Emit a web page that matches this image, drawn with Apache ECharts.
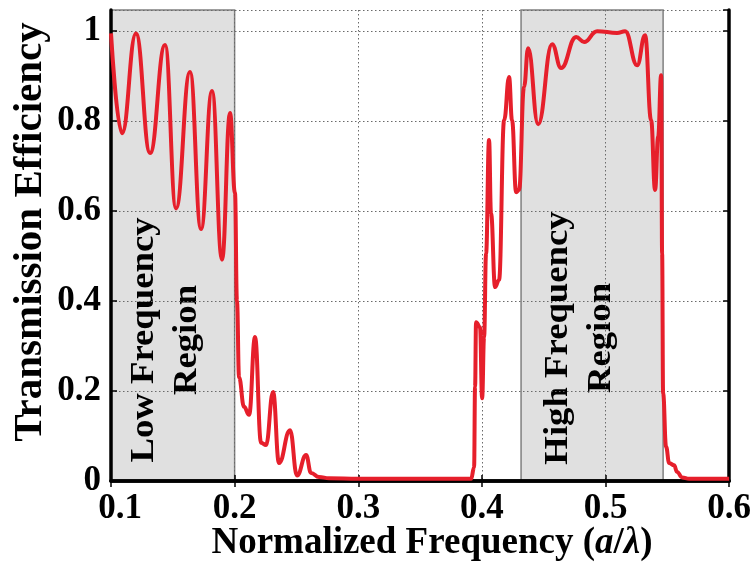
<!DOCTYPE html>
<html>
<head>
<meta charset="utf-8">
<script src="https://cdn.jsdelivr.net/npm/echarts@6/dist/echarts.min.js"></script>
<style>
  html, body { margin: 0; padding: 0; background: #ffffff; }
  #chart { width: 754px; height: 570px; }
</style>
</head>
<body>
<div id="chart"></div>
<script>
// Normalized frequency a/λ of each sample
const freq = [
  0.1000, 0.1089, 0.1202, 0.1316, 0.1437, 0.1526, 0.1639, 0.1728, 0.1817, 0.1898,
  0.1963, 0.2003, 0.2019, 0.2036, 0.2076, 0.2117, 0.2165, 0.2214, 0.2254, 0.2311,
  0.2359, 0.2448, 0.2505, 0.2578, 0.2618, 0.2683, 0.2764, 0.3000, 0.3500, 0.3913,
  0.3937, 0.3945, 0.3953, 0.3985, 0.4002, 0.4018, 0.4034, 0.4058, 0.4074, 0.4107,
  0.4139, 0.4180, 0.4220, 0.4244, 0.4277, 0.4301, 0.4341, 0.4374, 0.4455, 0.4568,
  0.4641, 0.4762, 0.4827, 0.4932, 0.5094, 0.5159, 0.5256, 0.5320, 0.5369, 0.5401,
  0.5426, 0.5450, 0.5458, 0.5466, 0.5490, 0.5515, 0.5555, 0.5579, 0.5620, 0.5676,
  0.6000
];
// Transmission efficiency at each frequency
const transmission = [
  0.995, 0.773, 0.995, 0.729, 0.969, 0.606, 0.909, 0.560, 0.867, 0.492,
  0.818, 0.640, 0.400, 0.230, 0.165, 0.147, 0.320, 0.085, 0.080, 0.198,
  0.040, 0.113, 0.012, 0.058, 0.018, 0.009, 0.006, 0.005, 0.005, 0.005,
  0.030, 0.210, 0.353, 0.342, 0.184, 0.320, 0.506, 0.758, 0.595, 0.431,
  0.447, 0.802, 0.898, 0.802, 0.642, 0.647, 0.876, 0.962, 0.793, 0.971,
  0.918, 0.987, 0.976, 1.000, 0.996, 1.000, 0.924, 0.991, 0.802, 0.647,
  0.765, 0.902, 0.506, 0.195, 0.076, 0.040, 0.035, 0.020, 0.008, 0.005,
  0.005
];
// Frequency bands that are shaded, and their captions
const bandStart = [0.1, 0.4317];
const bandEnd = [0.2, 0.5466];
const bandNames = ['Low Frequency\nRegion', 'High Frequency\nRegion'];

const X_MIN = 0.1, X_MAX = 0.6, X_STEP = 0.1;
const Y_MIN = 0, Y_MAX = 1.047, Y_STEP = 0.2;

const SERIF = '"Liberation Serif", "Times New Roman", serif';
const curveData = freq.map((f, i) => [f, transmission[i]]);
const bandData = bandStart.map((s, i) => [s, bandEnd[i]]);

const chart = echarts.init(document.getElementById('chart'), null, { renderer: 'canvas' });

const tickFont = { fontFamily: SERIF, fontWeight: 'bold', fontSize: 35, color: '#000' };

function xLabel(v) {
  const s = v.toFixed(1);
  return Math.abs(v - X_MIN) < 1e-9 ? '{first|' + s + '}' : s;
}
function yLabel(v) {
  const k = v / Y_STEP;
  if (Math.abs(k - Math.round(k)) > 1e-6) return '';
  return (v === 0 || Math.abs(v - 1) < 1e-9) ? String(Math.round(v)) : v.toFixed(1);
}

const axisLine = { show: true, lineStyle: { color: '#000', width: 3.5 } };
const innerTick = { show: true, inside: true, length: 6, lineStyle: { color: '#000', width: 1.5 } };
const gridDots = { show: true, lineStyle: { color: '#6a6a6a', width: 1, type: [1.5, 2.5] } };

chart.setOption({
  animation: false,
  backgroundColor: '#ffffff',
  grid: { left: 111, right: 24, top: 10, bottom: 89, containLabel: false },
  xAxis: [
    {
      type: 'value', position: 'bottom', min: X_MIN, max: X_MAX, interval: X_STEP,
      axisLine: axisLine, axisTick: innerTick, splitLine: gridDots,
      axisLabel: Object.assign({}, tickFont, {
        margin: 10, formatter: xLabel,
        rich: { first: Object.assign({}, tickFont, { padding: [0, 0, 0, 18] }) }
      })
    },
    {
      type: 'value', position: 'top', min: X_MIN, max: X_MAX, interval: X_STEP,
      axisLine: axisLine, axisTick: innerTick, splitLine: { show: false },
      axisLabel: { show: false }
    }
  ],
  yAxis: [
    {
      type: 'value', position: 'left', min: Y_MIN, max: Y_MAX, interval: Y_STEP,
      axisLine: axisLine, axisTick: innerTick, splitLine: gridDots,
      axisLabel: Object.assign({}, tickFont, { margin: 10, formatter: yLabel, showMaxLabel: false })
    },
    {
      type: 'value', position: 'right', min: Y_MIN, max: Y_MAX, interval: Y_STEP,
      axisLine: axisLine, axisTick: innerTick, splitLine: { show: false },
      axisLabel: { show: false }
    }
  ],
  series: [
    {
      // shaded frequency bands, drawn underneath the dotted grid
      type: 'custom',
      z: -1,
      silent: true,
      data: bandData,
      encode: { x: [0, 1] },
      renderItem: function (params, api) {
        const topLeft = api.coord([api.value(0), Y_MAX]);
        const bottomRight = api.coord([api.value(1), Y_MIN]);
        return {
          type: 'rect',
          shape: {
            x: topLeft[0], y: topLeft[1],
            width: bottomRight[0] - topLeft[0],
            height: bottomRight[1] - topLeft[1]
          },
          style: { fill: '#e0e0e0', stroke: '#808080', lineWidth: 1.5 }
        };
      }
    },
    {
      type: 'line',
      data: curveData,
      showSymbol: false,
      smooth: 0.45,
      smoothMonotone: 'x',
      z: 3,
      lineStyle: { color: '#e61f2b', width: 4 }
    }
  ],
  graphic: [
    {
      type: 'text', x: 30, y: 232, rotation: Math.PI / 2,
      style: {
        text: 'Transmission Efficiency', fontFamily: SERIF, fontWeight: 'bold', fontSize: 41,
        fill: '#000', align: 'center', verticalAlign: 'middle'
      }
    },
    {
      type: 'text', x: 432, y: 543,
      style: {
        text: 'Normalized Frequency ({i|a}/{i|λ})', fontFamily: SERIF, fontWeight: 'bold', fontSize: 37,
        fill: '#000', align: 'center', verticalAlign: 'middle',
        rich: { i: { fontFamily: SERIF, fontWeight: 'bold', fontStyle: 'italic', fontSize: 37, fill: '#000' } }
      }
    },
    {
      type: 'text', x: 166, y: 340, rotation: Math.PI / 2, scaleX: 1.08,
      style: {
        text: bandNames[0], fontFamily: SERIF, fontWeight: 'bold', fontSize: 34, lineHeight: 43,
        fill: '#000', align: 'center', verticalAlign: 'middle'
      }
    },
    {
      type: 'text', x: 580, y: 338, rotation: Math.PI / 2, scaleX: 1.08,
      style: {
        text: bandNames[1], fontFamily: SERIF, fontWeight: 'bold', fontSize: 34, lineHeight: 43,
        fill: '#000', align: 'center', verticalAlign: 'middle'
      }
    }
  ]
});
</script>
</body>
</html>
